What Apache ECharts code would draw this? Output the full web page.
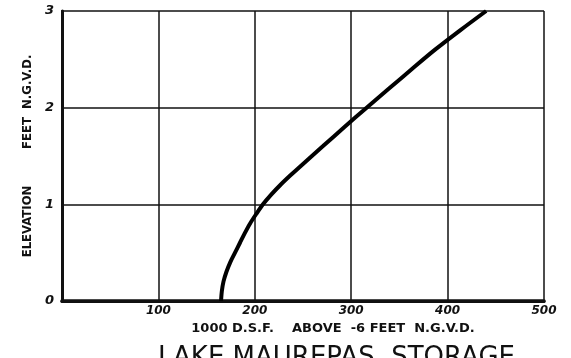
<!DOCTYPE html>
<html>
<head>
<meta charset="utf-8">
<script src="https://cdn.jsdelivr.net/npm/echarts@6/dist/echarts.min.js"></script>
<style>
  html, body { margin: 0; padding: 0; background: #fff; }
  #chart { width: 571px; height: 358px; }
</style>
</head>
<body>
<div id="chart"></div>
<script>
// elevation (feet N.G.V.D.) vs storage (1000 D.S.F. above -6 ft)
const elevation = [0, 0.1, 0.2, 0.3, 0.4, 0.5, 0.6, 0.7, 0.8, 0.9, 1.0, 1.1, 1.2, 1.3, 1.4, 1.6, 1.8, 2.0, 2.2, 2.4, 2.6, 2.8, 3.0]
const storage = [165, 165.8, 167.5, 170.5, 174.5, 179.5, 184.5, 189.5, 195, 201.5, 208.5, 217, 226.5, 237, 248, 270.5, 293, 316, 339.5, 363, 387, 413, 440]
const xTicks = ['', '100', '200', '300', '400', '500']
const yTicks = ['0', '1', '2', '3']

const ink = '#111'
const chart = echarts.init(document.getElementById('chart'))

const option = {
    backgroundColor: '#fff',
    animation: false,
    title: {
        text: 'LAKE MAUREPAS  STORAGE',
        left: 153,
        top: 340,
        textStyle: {
            fontFamily: '"DejaVu Sans", sans-serif',
            fontWeight: 'normal',
            fontSize: 26,
            color: ink,
        },
    },
    grid: {
        left: 62,
        right: 27,
        top: 11,
        bottom: 57,
        outerBoundsMode: 'none',
    },
    xAxis: [
        {
            type: 'value',
            min: 0,
            max: 500,
            interval: 100,
            name: '1000 D.S.F.    ABOVE  -6 FEET  N.G.V.D.',
            nameLocation: 'middle',
            nameGap: 17,
            nameTextStyle: {
                fontFamily: '"DejaVu Sans", sans-serif',
                fontWeight: 'bold',
                fontSize: 13,
                color: ink,
                padding: [0, 0, 0, 60],
            },
            axisLine: { show: true, lineStyle: { color: ink, width: 3 } },
            axisTick: { show: false },
            axisLabel: {
                margin: 4,
                fontFamily: '"DejaVu Sans", sans-serif',
                fontWeight: 'bold',
                fontStyle: 'italic',
                fontSize: 12,
                color: ink,
                formatter: (value) => xTicks[Math.round(value / 100)],
            },
            splitLine: { show: true, lineStyle: { color: ink, width: 1.5 } },
        },
        {
            type: 'value',
            position: 'top',
            min: 0,
            max: 500,
            interval: 100,
            axisLine: { show: true, lineStyle: { color: ink, width: 3.5 } },
            axisTick: { show: false },
            axisLabel: { show: false },
            splitLine: { show: false },
        },
    ],
    yAxis: [
        {
            type: 'value',
            min: 0,
            max: 3,
            interval: 1,
            name: 'ELEVATION         FEET  N.G.V.D.',
            nameLocation: 'middle',
            nameGap: 28,
            nameTextStyle: {
                fontFamily: '"Liberation Sans Narrow", "DejaVu Sans Condensed", sans-serif',
                fontWeight: 'bold',
                fontSize: 13,
                color: ink,
            },
            axisLine: { show: true, lineStyle: { color: ink, width: 3 } },
            axisTick: { show: false },
            axisLabel: {
                margin: 8,
                fontFamily: '"DejaVu Sans", sans-serif',
                fontWeight: 'bold',
                fontStyle: 'italic',
                fontSize: 13,
                color: ink,
                formatter: (value) => yTicks[Math.round(value)],
            },
            splitLine: { show: true, lineStyle: { color: ink, width: 1.5 } },
        },
        {
            type: 'value',
            position: 'right',
            min: 0,
            max: 3,
            interval: 1,
            axisLine: { show: true, lineStyle: { color: ink, width: 2 } },
            axisTick: { show: false },
            axisLabel: { show: false },
            splitLine: { show: false },
        },
    ],
    series: [
        {
            type: 'line',
            data: storage.map((s, i) => [s, elevation[i]]),
            smooth: 0.3,
            showSymbol: false,
            lineStyle: { color: '#000', width: 4 },
            z: 5,
        },
    ],
}

chart.setOption(option)
</script>
</body>
</html>
